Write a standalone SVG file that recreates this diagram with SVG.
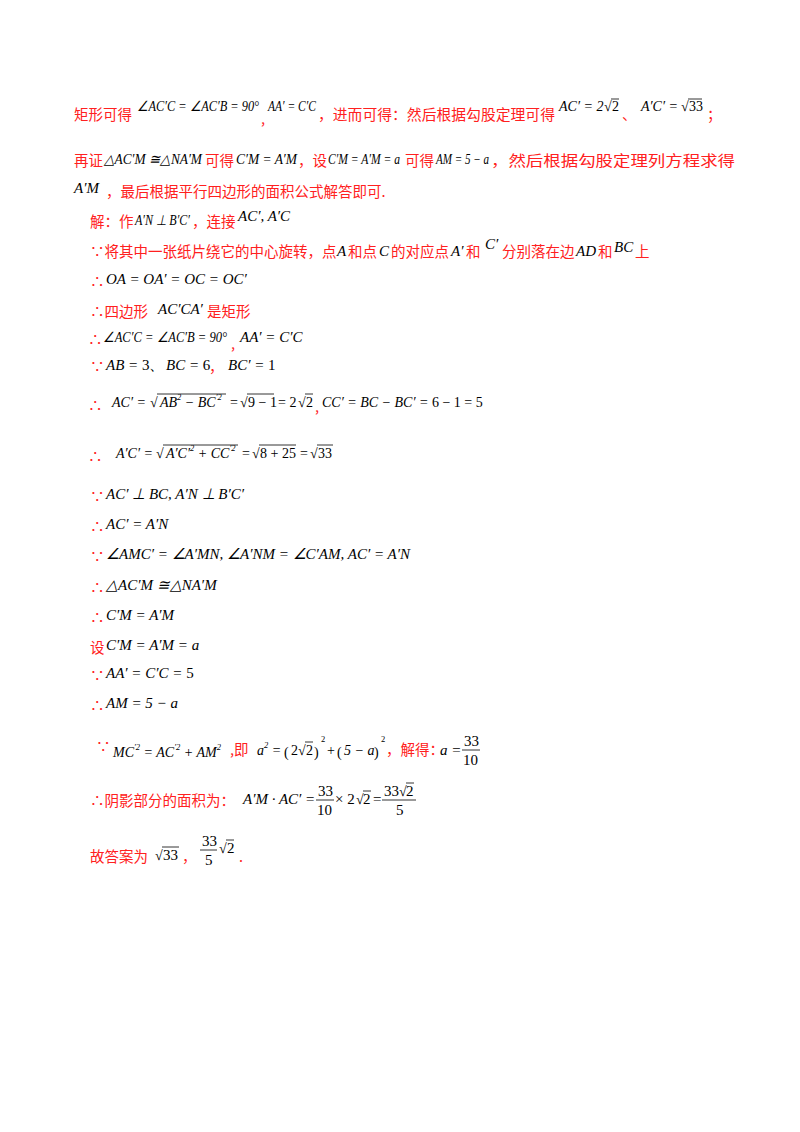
<svg xmlns="http://www.w3.org/2000/svg" width="800" height="1132" viewBox="0 0 800 1132">
<style>
.r{fill:#ff2020;font-family:"Noto Sans CJK SC","Noto Sans CJK JP",sans-serif;font-size:14.5px}
.m{fill:#000;font-family:"Liberation Serif",serif;font-size:14px;font-style:italic}
.n{fill:#000;font-family:"Liberation Serif",serif;font-size:14px}
.b{font-size:15px}
.s{font-size:8.5px}
line{stroke:#000;stroke-width:0.8}
</style>
<rect width="800" height="1132" fill="#fff"/>
<g id="p1">
<text class="r" x="74" y="120">矩形可得</text>
<text class="m" x="137" y="111" textLength="122" lengthAdjust="spacingAndGlyphs">∠AC′C = ∠AC′B = 90°</text>
<text class="r" x="261" y="124">,</text>
<text class="m" x="268" y="111" textLength="48" lengthAdjust="spacingAndGlyphs">AA′ = C′C</text>
<text class="r" x="318" y="120" textLength="237" lengthAdjust="spacingAndGlyphs">，进而可得：然后根据勾股定理可得</text>
<text class="m" x="559" y="111">AC′ = 2</text><text class="n" x="604" y="111">√</text><line x1="611" y1="99" x2="619" y2="99"/><text class="n" x="612" y="111">2</text>
<text class="r" x="622" y="120">、</text>
<text class="m" x="641" y="111">A′C′ = </text><text class="n" x="681" y="111">√</text><line x1="688" y1="99" x2="702" y2="99"/><text class="n" x="689" y="111">33</text>
<text class="r" x="707" y="120">；</text>
</g>
<g id="p2">
<text class="r" x="74" y="166">再证</text>
<text class="m" x="104" y="164" textLength="98" lengthAdjust="spacingAndGlyphs">△AC′M ≅△NA′M</text>
<text class="r" x="205" y="166">可得</text>
<text class="m" x="236" y="164" textLength="61" lengthAdjust="spacingAndGlyphs">C′M = A′M</text>
<text class="r" x="298" y="166">，设</text>
<text class="m" x="328" y="164" textLength="72" lengthAdjust="spacingAndGlyphs">C′M = A′M = a</text>
<text class="r" x="405" y="166">可得</text>
<text class="m" x="436" y="164" textLength="53" lengthAdjust="spacingAndGlyphs">AM = 5 − a</text>
<text class="r" x="491" y="166" textLength="244" lengthAdjust="spacingAndGlyphs">，然后根据勾股定理列方程求得</text>
<text class="m b" x="74" y="193">A′M</text>
<text class="r" x="106" y="197">，最后根据平行四边形的面积公式解答即可.</text>
</g>
<g id="p3">
<text class="r" x="90" y="227">解：作</text>
<text class="m" x="135" y="225" textLength="55" lengthAdjust="spacingAndGlyphs">A′N ⊥ B′C′</text>
<text class="r" x="192" y="227">，连接</text>
<text class="m b" x="238" y="221">AC′, A′C</text>
<text class="r" x="90" y="257">∵将其中一张纸片绕它的中心旋转，点</text>
<text class="m b" x="337" y="256">A</text><text class="r" x="348" y="257">和点</text>
<text class="m b" x="379" y="256">C</text><text class="r" x="391" y="257">的对应点</text>
<text class="m b" x="451" y="256">A′</text><text class="r" x="466" y="257">和</text>
<text class="m b" x="485" y="249">C′</text><text class="r" x="502" y="257">分别落在边</text>
<text class="m b" x="576" y="256">AD</text><text class="r" x="598" y="257">和</text>
<text class="m b" x="614" y="252">BC</text><text class="r" x="635" y="257">上</text>
</g>
<g id="p4">
<text class="r" x="90" y="287">∴</text><text class="m b" x="106" y="284">OA = OA′ = OC = OC′</text>
<text class="r" x="90" y="317">∴四边形</text><text class="m b" x="158" y="314">AC′CA′</text><text class="r" x="207" y="317">是矩形</text>
<text class="r" x="88" y="345" font-size="12">∴</text><text class="m" x="103" y="342" textLength="124" lengthAdjust="spacingAndGlyphs">∠AC′C = ∠AC′B = 90°</text><text class="r" x="231" y="349">,</text><text class="m b" x="240" y="342">AA′ = C′C</text>
<text class="r" x="90" y="372">∵</text><text class="m b" x="106" y="370">AB = <tspan font-style="normal">3</tspan></text><text class="n b" x="149" y="370">、</text><text class="m b" x="166" y="370">BC = <tspan font-style="normal">6</tspan></text><text class="r" x="209" y="372">，</text><text class="m b" x="228" y="370">BC′ = <tspan font-style="normal">1</tspan></text>
</g>
<g id="p5">
<text class="r" x="88" y="411" font-size="12">∴</text>
<text class="m" x="112" y="407">AC′ =</text><text class="n" x="150" y="407">√</text><line x1="157" y1="394" x2="226" y2="394"/>
<text class="m" x="160" y="407">AB<tspan class="s" dy="-7">2</tspan><tspan dy="7"> − BC</tspan><tspan class="s" dy="-7">′2</tspan></text>
<text class="n" x="230" y="407">=</text><text class="n" x="240" y="407">√</text><line x1="247" y1="394" x2="274" y2="394"/><text class="n" x="248" y="407">9 − 1</text>
<text class="n" x="278" y="407">= 2</text><text class="n" x="298" y="407">√</text><line x1="305" y1="394" x2="313" y2="394"/><text class="n" x="306" y="407">2</text>
<text class="r" x="315" y="412">,</text>
<text class="m" x="322" y="407">CC′ = BC − BC′ = <tspan font-style="normal">6 − 1 = 5</tspan></text>
<text class="r" x="88" y="462">∴</text>
<text class="m" x="116" y="458">A′C′ =</text><text class="n" x="156" y="458">√</text><line x1="163" y1="445" x2="238" y2="445"/>
<text class="m" x="166" y="458">A′C′<tspan class="s" dy="-7">2</tspan><tspan dy="7"> + CC</tspan><tspan class="s" dy="-7">′2</tspan></text>
<text class="n" x="242" y="458">=</text><text class="n" x="252" y="458">√</text><line x1="259" y1="445" x2="296" y2="445"/><text class="n" x="260" y="458">8 + 25</text>
<text class="n" x="300" y="458">=</text><text class="n" x="310" y="458">√</text><line x1="317" y1="445" x2="333" y2="445"/><text class="n" x="318" y="458">33</text>
</g>
<g id="p6">
<text class="r" x="90" y="502">∵</text><text class="m b" x="106" y="499">AC′ ⊥ BC, A′N ⊥ B′C′</text>
<text class="r" x="90" y="532">∴</text><text class="m b" x="106" y="529">AC′ = A′N</text>
<text class="r" x="90" y="562">∵</text><text class="m b" x="106" y="559">∠AMC′ = ∠A′MN, ∠A′NM = ∠C′AM, AC′ = A′N</text>
<text class="r" x="90" y="593">∴</text><text class="m b" x="106" y="590">△AC′M ≅△NA′M</text>
<text class="r" x="90" y="623">∴</text><text class="m b" x="106" y="620">C′M = A′M</text>
<text class="r" x="90" y="653">设</text><text class="m b" x="106" y="650">C′M = A′M = a</text>
<text class="r" x="90" y="681">∵</text><text class="m b" x="106" y="678">AA′ = C′C = <tspan font-style="normal">5</tspan></text>
<text class="r" x="90" y="711">∴</text><text class="m b" x="106" y="708">AM = 5 − a</text>
</g>
<g id="p7">
<text class="r" x="96" y="752" font-size="11">∵</text>
<text class="m" x="113" y="757">MC<tspan class="s" dy="-7">′2</tspan><tspan dy="7"> = AC</tspan><tspan class="s" dy="-7">′2</tspan><tspan dy="7"> + AM</tspan><tspan class="s" dy="-7">2</tspan></text>
<text class="r" x="230" y="755">,即</text>
<text class="m" x="257" y="755">a<tspan class="s" dy="-7">2</tspan><tspan dy="7"> =</tspan></text>
<text class="n" x="284" y="757" font-size="19">(</text><text class="n" x="291" y="755">2</text><text class="n" x="298" y="755">√</text><line x1="305" y1="742" x2="313" y2="742"/><text class="n" x="306" y="755">2</text><text class="n" x="314" y="757" font-size="19">)</text><text class="s n" x="321" y="742">2</text>
<text class="n" x="327" y="755">+</text><text class="n" x="337" y="757" font-size="19">(</text><text class="m" x="344" y="755">5 − a</text><text class="n" x="374" y="757" font-size="19">)</text><text class="s n" x="381" y="742">2</text>
<text class="r" x="386" y="755">，解得：</text>
<text class="m b" x="440" y="755">a =</text>
<text class="n b" x="464" y="746">33</text><line x1="462" y1="750" x2="480" y2="750"/><text class="n b" x="463" y="765">10</text>
<text class="r" x="90" y="806">∴阴影部分的面积为：</text>
<text class="m b" x="243" y="804">A′M · AC′ =</text>
<text class="n b" x="318" y="796">33</text><line x1="316" y1="800" x2="334" y2="800"/><text class="n b" x="317" y="815">10</text>
<text class="n b" x="335" y="804">× 2</text><text class="n" x="356" y="804">√</text><line x1="363" y1="791" x2="371" y2="791"/><text class="n b" x="363" y="804">2</text><text class="n b" x="373" y="804">=</text>
<text class="n b" x="384" y="796">33</text><text class="n" x="399" y="796">√</text><line x1="406" y1="783" x2="414" y2="783"/><text class="n b" x="406" y="796">2</text><line x1="382" y1="800" x2="416" y2="800"/><text class="n b" x="396" y="815">5</text>
<text class="r" x="90" y="862">故答案为</text>
<text class="n" x="155" y="860">√</text><line x1="162" y1="847" x2="179" y2="847"/><text class="n b" x="163" y="860">33</text>
<text class="r" x="182" y="862">，</text>
<text class="n b" x="202" y="846">33</text><line x1="200" y1="850" x2="217" y2="850"/><text class="n b" x="205" y="865">5</text>
<text class="n" x="219" y="853">√</text><line x1="226" y1="840" x2="234" y2="840"/><text class="n b" x="227" y="853">2</text>
<text class="r" x="239" y="862">.</text>
</g>
</svg>
